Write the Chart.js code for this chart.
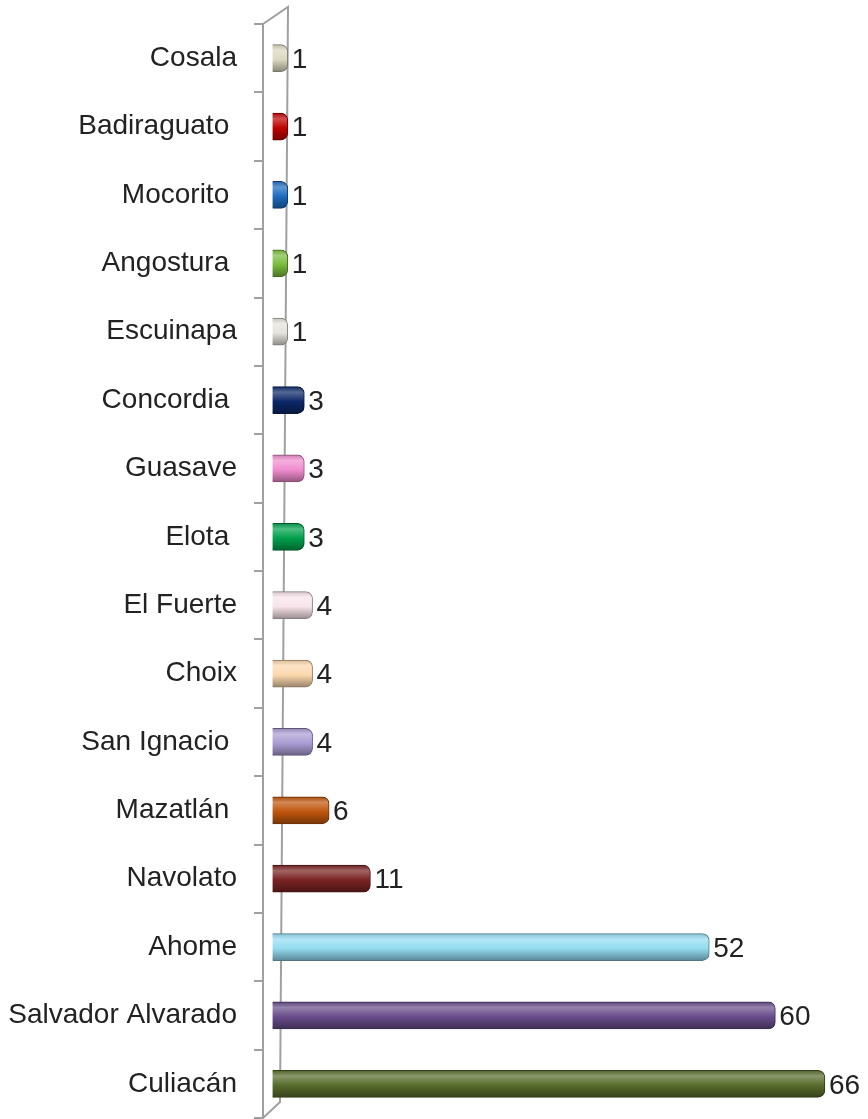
<!DOCTYPE html>
<html>
<head>
<meta charset="utf-8">
<script src="https://cdn.jsdelivr.net/npm/chart.js@4.4.1/dist/chart.umd.min.js"></script>
<style>
  html, body { margin: 0; padding: 0; background: #fff; }
  #wrap { width: 868px; height: 1119px; }
</style>
</head>
<body>
<div id="wrap"><canvas id="chartdiv" width="868" height="1119"></canvas></div>
<script>
// municipios (top to bottom as in the picture)
var categories = ['Cosala', 'Badiraguato ', 'Mocorito ', 'Angostura ', 'Escuinapa', 'Concordia ',
    'Guasave', 'Elota ', 'El Fuerte', 'Choix', 'San Ignacio ', 'Mazatlán ', 'Navolato',
    'Ahome', 'Salvador Alvarado', 'Culiacán'];
var values = [1, 1, 1, 1, 1, 3, 3, 3, 4, 4, 4, 6, 11, 52, 60, 66];
var barColors = ['#dcd8c0', '#c00000', '#1c6cc0', '#78bc3c', '#e4e4da', '#0c2868',
    '#f08cd0', '#00a04c', '#f8e4ea', '#fcd8ae', '#aa9cd4', '#c0560c', '#7a2222',
    '#94dcf2', '#684c8a', '#586c2c'];

var FONT = '"Liberation Sans", Arial, sans-serif';

function shade(hex, amt) {
    var n = parseInt(hex.slice(1), 16);
    var r = (n >> 16) & 255, g = (n >> 8) & 255, b = n & 255;
    function f(c) {
        c = amt < 0 ? c * (1 + amt) : c + (255 - c) * amt;
        return Math.round(Math.max(0, Math.min(255, c)));
    }
    return 'rgb(' + f(r) + ',' + f(g) + ',' + f(b) + ')';
}

// cylinder look: vertical gradient across each bar
function cylinderFill(context) {
    var chart = context.chart;
    var yScale = chart.scales.y;
    var col = barColors[context.dataIndex];
    if (!yScale || !chart.chartArea) return col;
    var yc = yScale.getPixelForValue(context.dataIndex);
    var h = 14;
    var g = chart.ctx.createLinearGradient(0, yc - h, 0, yc + h);
    g.addColorStop(0, shade(col, -0.15));
    g.addColorStop(0.22, shade(col, 0.3));
    g.addColorStop(0.55, col);
    g.addColorStop(1, shade(col, -0.4));
    return g;
}

// 3d wall lines behind the bars
var wallPlugin = {
    id: 'wall',
    beforeDatasetsDraw: function(chart) {
        var a = chart.chartArea, ctx = chart.ctx;
        ctx.save();
        ctx.strokeStyle = '#a0a0a0';
        ctx.lineWidth = 2;
        ctx.beginPath();
        ctx.moveTo(a.left, a.top);
        ctx.lineTo(a.left + 25, a.top - 17);
        ctx.lineTo(a.left + 17, a.bottom - 16);
        ctx.lineTo(a.left, a.bottom);
        ctx.stroke();
        ctx.restore();
    }
};

// value labels at the end of each bar
var valueLabels = {
    id: 'valueLabels',
    afterDatasetsDraw: function(chart) {
        var ctx = chart.ctx;
        var meta = chart.getDatasetMeta(0);
        ctx.save();
        ctx.font = '28px ' + FONT;
        ctx.fillStyle = '#222';
        ctx.textAlign = 'left';
        ctx.textBaseline = 'middle';
        meta.data.forEach(function(bar, i) {
            ctx.fillText(String(values[i]), bar.x + 4, bar.y + 2);
        });
        ctx.restore();
    }
};

var ctx1 = document.getElementById('chartdiv');
var barChart = new Chart(ctx1, {
    type: 'bar',
    data: {
        labels: categories,
        datasets: [{
            data: values,
            base: -0.85,
            backgroundColor: cylinderFill,
            borderColor: barColors.map(function(c) { return shade(c, -0.45); }),
            borderWidth: 1,
            borderSkipped: 'left',
            borderRadius: { topRight: 7, bottomRight: 7 },
            barThickness: 27
        }]
    },
    options: {
        indexAxis: 'y',
        responsive: false,
        animation: false,
        layout: { padding: { top: 24, right: 10, bottom: 1, left: 0 } },
        plugins: {
            legend: { display: false },
            tooltip: { enabled: false }
        },
        scales: {
            x: {
                display: false,
                min: -2,
                max: 70
            },
            y: {
                afterFit: function(scale) {
                    scale.width = 263;
                    scale.paddingTop = 0;
                    scale.paddingBottom = 0;
                },
                grid: {
                    drawOnChartArea: false,
                    drawTicks: true,
                    tickLength: 9,
                    color: '#a0a0a0',
                    lineWidth: 2,
                    offset: true
                },
                border: { display: true, color: '#a0a0a0', width: 2 },
                ticks: {
                    padding: 17,
                    color: '#222',
                    font: { family: FONT, size: 28 }
                }
            }
        }
    },
    plugins: [wallPlugin, valueLabels]
});
</script>
</body>
</html>
